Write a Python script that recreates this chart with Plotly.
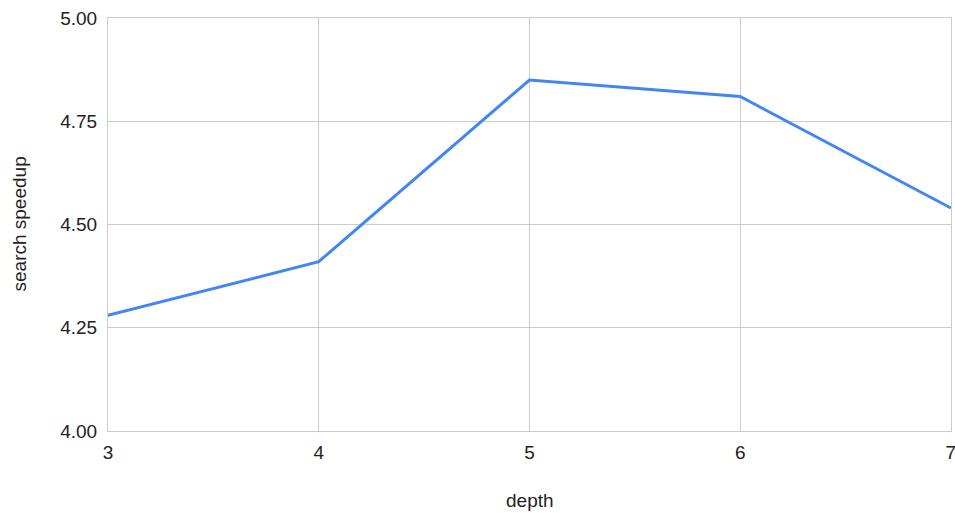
import plotly.graph_objects as go

depth = [3, 4, 5, 6, 7]
speedup = [4.28, 4.41, 4.85, 4.81, 4.54]
y_ticks = [4.00, 4.25, 4.50, 4.75, 5.00]
y_tick_labels = ["4.00", "4.25", "4.50", "4.75", "5.00"]

fig = go.Figure(go.Scatter(x=depth, y=speedup, mode="lines",
                           line=dict(color="#4285F4", width=3)))

fig.update_layout(
    width=955, height=513,
    margin=dict(l=108, r=4, t=18, b=82),
    plot_bgcolor="white", paper_bgcolor="white",
    font=dict(family="Liberation Sans, Arial, sans-serif", size=19, color="#222"),
    showlegend=False,
    annotations=[
        dict(text="depth", xref="paper", yref="paper", x=0.5, y=0,
             xanchor="center", yanchor="middle", yshift=-69, showarrow=False,
             font=dict(size=19)),
        dict(text="search speedup", xref="paper", yref="paper", x=0, y=0.5,
             xanchor="center", yanchor="middle", xshift=-89, textangle=-90,
             showarrow=False, font=dict(size=19)),
    ],
)
fig.update_xaxes(range=[3, 7.0005], tickvals=depth, showgrid=True, gridcolor="#cccccc",
                 gridwidth=1, zeroline=False, showline=True, linecolor="#cccccc",
                 mirror=True, ticks="", ticklabelstandoff=4, automargin=False,
                 ticklabeloverflow="allow")
fig.update_yaxes(range=[4, 5.0002], tickvals=y_ticks, ticktext=y_tick_labels,
                 showgrid=True, gridcolor="#cccccc", gridwidth=1, zeroline=False,
                 showline=True, linecolor="#cccccc", mirror=True, ticks="",
                 ticklabelstandoff=6, automargin=False)

fig.write_html("out.html", config={"displayModeBar": False},
               post_script="document.body.style.margin='0';document.body.style.overflow='hidden';")
